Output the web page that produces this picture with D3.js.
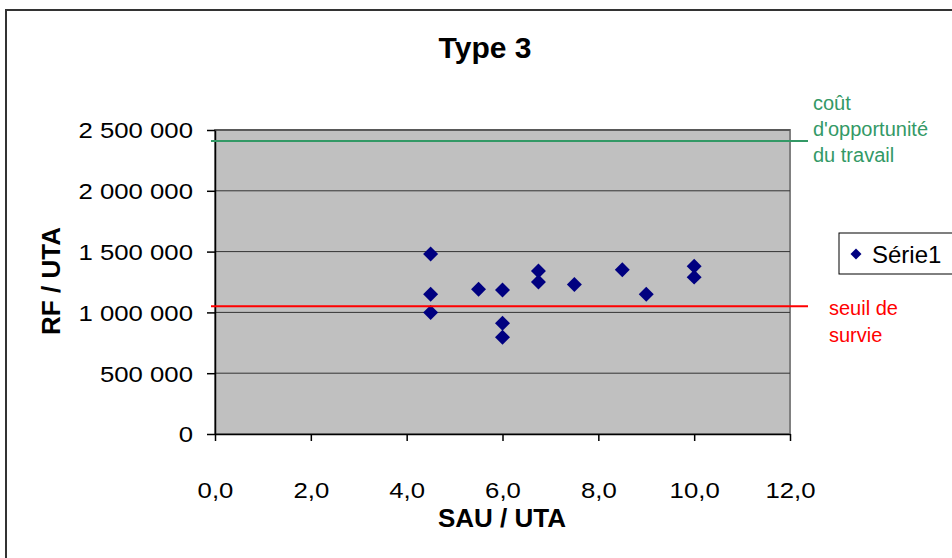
<!DOCTYPE html>
<html>
<head>
<meta charset="utf-8">
<script src="https://cdn.jsdelivr.net/npm/d3@7"></script>
<style>
  body { margin: 0; background: #fff; }
  svg { display: block; }
  text { font-family: "Liberation Sans", Arial, sans-serif; }
</style>
</head>
<body>
<div id="chart"></div>
<script>
// -----------------------------
// Data
// -----------------------------
const sauUta = [4.5, 4.5, 4.5, 5.5, 6.0, 6.0, 6.0, 6.75, 6.75, 7.5, 8.5, 9.0, 10.0, 10.0];
const rfUta = [1480000, 1150000, 1000000, 1190000, 1185000, 910000, 795000,
  1340000, 1250000, 1230000, 1350000, 1150000, 1380000, 1290000];
const xTicks = [0, 2, 4, 6, 8, 10, 12];
const yTicks = [0, 500000, 1000000, 1500000, 2000000, 2500000];
const opportunityCost = 2410000;
const survivalThreshold = 1050000;
const opportunityLabel = ["coût", "d'opportunité", "du travail"];
const survivalLabel = ["seuil de", "survie"];
const seriesName = "Série1";

const width = 952, height = 558;
const plot = { left: 215, right: 790, top: 130, bottom: 434 };
const stretch = 1.12;

const fr = d3.formatLocale({ decimal: ",", thousands: "\u00a0", grouping: [3], currency: ["", "€"] });
const fmtX = fr.format(".1f");
const fmtY = fr.format(",");

const svg = d3.select("#chart").append("svg")
  .attr("width", width)
  .attr("height", height);

// outer chart border
svg.append("rect")
  .attr("x", 6).attr("y", 10)
  .attr("width", 980).attr("height", 580)
  .attr("fill", "#fff")
  .attr("stroke", "#333")
  .attr("stroke-width", 2);

// -----------------------------
// Scales
// -----------------------------
const x = d3.scaleLinear().domain([0, 12]).range([plot.left, plot.right]);
const y = d3.scaleLinear().domain([0, 2500000]).range([plot.bottom, plot.top]);

// plot area
svg.append("rect")
  .attr("x", plot.left).attr("y", plot.top)
  .attr("width", plot.right - plot.left)
  .attr("height", plot.bottom - plot.top)
  .attr("fill", "#c0c0c0")
  .attr("stroke", "#808080")
  .attr("stroke-width", 2);

// gridlines
svg.append("g")
  .selectAll("line")
  .data(yTicks.filter(d => d > 0))
  .join("line")
  .attr("x1", plot.left).attr("x2", plot.right)
  .attr("y1", d => y(d)).attr("y2", d => y(d))
  .attr("stroke", "#333")
  .attr("stroke-width", 1);

// -----------------------------
// Axes
// -----------------------------
const yAxis = svg.append("g")
  .attr("transform", `translate(${plot.left},0)`)
  .call(d3.axisLeft(y).tickValues(yTicks).tickFormat(fmtY).tickSize(8).tickSizeOuter(0));

yAxis.selectAll("text")
  .attr("transform", `scale(${stretch},1)`)
  .attr("x", -22 / stretch)
  .attr("dy", "0.34em")
  .attr("fill", "#000")
  .style("font-size", "23px");

const xAxis = svg.append("g")
  .attr("transform", `translate(0,${plot.bottom})`)
  .call(d3.axisBottom(x).tickValues(xTicks).tickFormat(fmtX).tickSize(7).tickSizeOuter(0));

xAxis.selectAll("text")
  .attr("transform", `scale(${stretch},1)`)
  .attr("y", 64)
  .attr("dy", null)
  .attr("fill", "#000")
  .style("font-size", "23px");

svg.selectAll(".domain, .tick line")
  .attr("stroke", "#000")
  .attr("stroke-width", 1.5);

// -----------------------------
// Points
// -----------------------------
const diamond = d3.symbol(d3.symbolSquare, 112);

svg.append("g")
  .selectAll("path")
  .data(sauUta.map((v, i) => ({ x: v, y: rfUta[i] })))
  .join("path")
  .attr("transform", d => `translate(${x(d.x)},${y(d.y)}) rotate(45)`)
  .attr("d", diamond)
  .attr("fill", "#000080");

// -----------------------------
// Reference lines + labels
// -----------------------------
svg.append("line")
  .attr("x1", 211).attr("x2", 808)
  .attr("y1", y(opportunityCost)).attr("y2", y(opportunityCost))
  .attr("stroke", "#339966")
  .attr("stroke-width", 2);

svg.append("line")
  .attr("x1", 211).attr("x2", 808)
  .attr("y1", y(survivalThreshold)).attr("y2", y(survivalThreshold))
  .attr("stroke", "#ff0000")
  .attr("stroke-width", 2);

svg.append("g")
  .selectAll("text")
  .data(opportunityLabel)
  .join("text")
  .attr("x", 813)
  .attr("y", (d, i) => 110 + i * 26)
  .attr("fill", "#339966")
  .style("font-size", "20px")
  .text(d => d);

svg.append("g")
  .selectAll("text")
  .data(survivalLabel)
  .join("text")
  .attr("x", 829)
  .attr("y", (d, i) => 315 + i * 27)
  .attr("fill", "#ff0000")
  .style("font-size", "20px")
  .text(d => d);

// -----------------------------
// Titles
// -----------------------------
svg.append("text")
  .attr("x", 485)
  .attr("y", 58)
  .attr("text-anchor", "middle")
  .style("font-size", "30px")
  .style("font-weight", "bold")
  .text("Type 3");

svg.append("text")
  .attr("x", 502)
  .attr("y", 527)
  .attr("text-anchor", "middle")
  .style("font-size", "26px")
  .style("font-weight", "bold")
  .text("SAU / UTA");

svg.append("text")
  .attr("transform", "translate(60,281) rotate(-90)")
  .attr("text-anchor", "middle")
  .style("font-size", "26px")
  .style("font-weight", "bold")
  .text("RF / UTA");

// -----------------------------
// Legend
// -----------------------------
const legend = svg.append("g");
legend.append("rect")
  .attr("x", 839).attr("y", 233)
  .attr("width", 140).attr("height", 41)
  .attr("fill", "#fff")
  .attr("stroke", "#000")
  .attr("stroke-width", 1);
legend.append("path")
  .attr("transform", "translate(856,254) rotate(45)")
  .attr("d", d3.symbol(d3.symbolSquare, 60))
  .attr("fill", "#000080");
legend.append("text")
  .attr("x", 872)
  .attr("y", 263)
  .style("font-size", "24px")
  .text(seriesName);
</script>
</body>
</html>
